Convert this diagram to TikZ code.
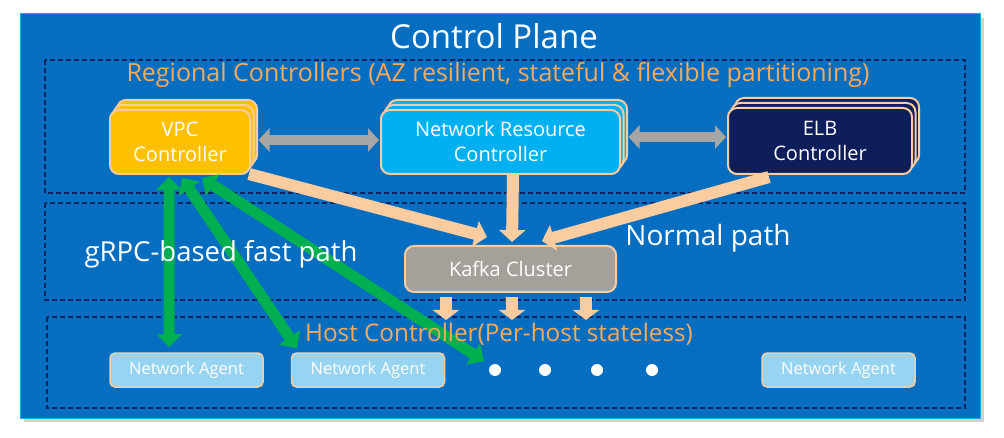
\documentclass[tikz,border=0pt]{standalone}
\usepackage{fontspec}
\setmainfont{Open Sans}
\usetikzlibrary{arrows.meta,calc}
\definecolor{cpblue}{RGB}{6,110,192}
\definecolor{cpborder}{RGB}{30,170,235}
\definecolor{navy}{RGB}{18,36,95}
\definecolor{orangetxt}{RGB}{246,170,90}
\definecolor{peach}{RGB}{250,204,160}
\definecolor{vpcfill}{RGB}{255,192,0}
\definecolor{nrcfill}{RGB}{0,176,240}
\definecolor{elbfill}{RGB}{14,30,90}
\definecolor{kafkafill}{RGB}{166,160,155}
\definecolor{agentfill}{RGB}{150,212,242}
\definecolor{greenar}{RGB}{0,176,80}
\definecolor{grayar}{RGB}{166,166,166}
\tikzset{
  region/.style={draw=navy, line width=1.2pt, dash pattern=on 5pt off 3pt},
  ctrl/.style={draw=peach, line width=2pt, rounded corners=9pt, minimum width=140pt, minimum height=64pt, text=white, align=center, font=\fontsize{20}{25}\selectfont},
  agent/.style={draw=peach, line width=1.5pt, fill=agentfill, rounded corners=5pt, minimum width=153pt, minimum height=34pt, text=white, font=\fontsize{16.5}{19}\selectfont},
  peacharrow/.style={draw=peach, line width=12pt, -{Triangle[width=26pt,length=12pt]}},
  smallarrow/.style={draw=peach, line width=12pt, -{Triangle[width=26pt,length=10pt]}},
  grayarrow/.style={draw=grayar, line width=10pt, {Triangle[width=23pt,length=11pt]}-{Triangle[width=23pt,length=11pt]}},
  greenarrow/.style={draw=greenar, line width=11pt, {Triangle[width=25pt,length=13pt]}-{Triangle[width=25pt,length=13pt]}},
  dot/.style={circle, fill=white, minimum size=12pt, inner sep=0pt}
}
\begin{document}
\begin{tikzpicture}[x=1pt,y=-1pt]
\useasboundingbox (0,0) rectangle (1004,438);
\fill[white] (0,0) rectangle (1004,438);
% outer panel
\fill[black!18] (24,18) rectangle (984,422);
\fill[cpblue, draw=cpborder, line width=1pt] (20,14) rectangle (980,418);
% regions
\draw[region] (45,60) rectangle (965,193);
\draw[region] (45,203) rectangle (965,300);
\draw[region] (47,317) rectangle (965,408);

% controllers (stacked)
\node[ctrl, fill=vpcfill] (vpcb2) at (187,132) {};
\node[ctrl, fill=vpcfill] (vpcb1) at (183.5,137) {};
\node[ctrl, fill=vpcfill] (vpc) at (180,142) {VPC\\Controller};

\node[ctrl, fill=nrcfill, minimum width=239pt] (nrcb2) at (507.5,132) {};
\node[ctrl, fill=nrcfill, minimum width=239pt] (nrcb1) at (504,137) {};
\node[ctrl, fill=nrcfill, minimum width=239pt] (nrc) at (500.5,142) {Network Resource\\Controller};

\node[ctrl, fill=elbfill, minimum width=184pt, minimum height=66pt] (elbb2) at (827,131) {};
\node[ctrl, fill=elbfill, minimum width=184pt, minimum height=66pt] (elbb1) at (823.5,136) {};
\node[ctrl, fill=elbfill, minimum width=184pt, minimum height=66pt] (elb) at (820,141) {ELB\\Controller};

% kafka
\node[ctrl, fill=kafkafill, minimum width=211pt, minimum height=46pt, font=\fontsize{20}{24}\selectfont] (kafka) at (510.5,269) {Kafka Cluster};

% agents
\node[agent] (ag1) at (186.5,370) {Network Agent};
\node[agent] (ag2) at (368,370) {Network Agent};
\node[agent] (ag3) at (838.5,370) {Network Agent};
\node[dot] (d1) at (495,370) {};
\node[dot] (d2) at (545,370) {};
\node[dot] (d3) at (597,370) {};
\node[dot] (d4) at (652,370) {};

% gray double arrows
\draw[grayarrow] ($(vpcb1.east)+(4,3)$) -- ($(nrc.west)+(-1,-2)$);
\draw[grayarrow] ($(nrcb1.east)+(4,0)$) -- ($(elb.west)+(-1,-4)$);

% peach arrows
\draw[peacharrow] ($(vpc.south east)+(-2,-1)$) -- ($(kafka.north west)+(83,-8)$);
\draw[peacharrow] (nrc.south -| 513,0) -- ($(kafka.north west)+(108,-3)$);
\draw[peacharrow] ($(elb.south west)+(42,2)$) -- ($(kafka.north west)+(138,-4)$);
\coordinate (k1) at ($(kafka.south west)+(42,0)$);
\coordinate (k2) at ($(kafka.south west)+(108,0)$);
\coordinate (k3) at ($(kafka.south west)+(182,0)$);
\draw[smallarrow] ($(k1)+(0,4)$) -- ($(k1)+(0,27)$);
\draw[smallarrow] ($(k2)+(0,4)$) -- ($(k2)+(0,27)$);
\draw[smallarrow] ($(k3)+(0,4)$) -- ($(k3)+(0,27)$);

% green arrows
\draw[greenarrow] ($(vpc.south west)+(60,2)$) -- ($(ag1.north west)+(60,-5)$);
\draw[greenarrow] ($(vpc.south west)+(73,3)$) -- ($(ag2.north west)+(6,-4)$);
\draw[greenarrow] ($(vpc.south west)+(93,3)$) -- ($(d1.center)+(-11,-9)$);

% texts
\node[text=white, font=\fontsize{33}{38}\selectfont] (title) at (494,36) {Control Plane};
\node[text=orangetxt, font=\fontsize{25}{29}\selectfont] (regtitle) at (498,75) {Regional Controllers (AZ resilient, stateful \& flexible partitioning)};
\node[text=white, font=\fontsize{27.5}{32}\selectfont] (grpc) at (221,254) {gRPC-based fast path};
\node[text=white, font=\fontsize{28}{32}\selectfont] (normal) at (708,238) {Normal path};
\node[text=orangetxt, font=\fontsize{24.3}{28}\selectfont] (hosttitle) at (499,334) {Host Controller(Per-host stateless)};
\end{tikzpicture}
\end{document}
